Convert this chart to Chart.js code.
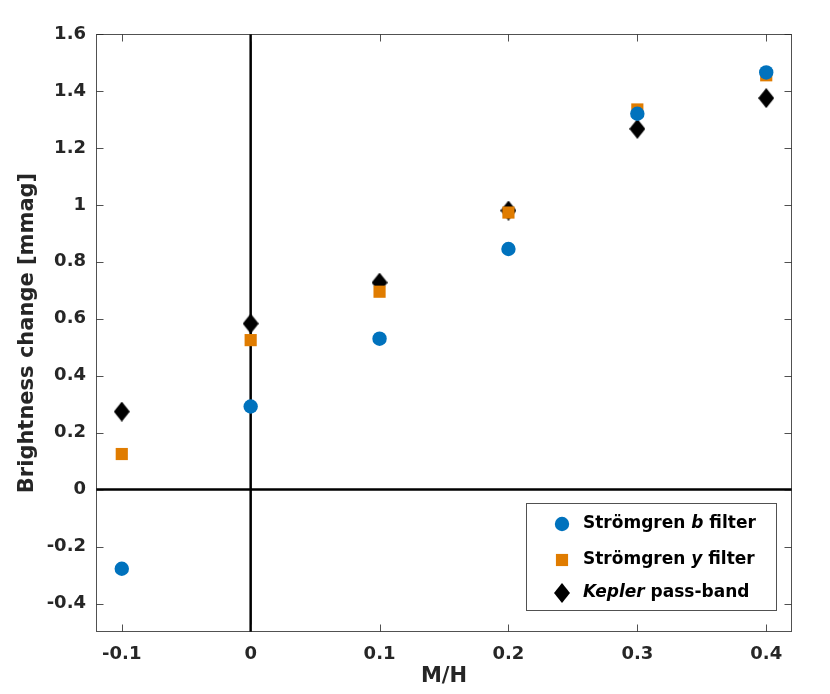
<!DOCTYPE html>
<html><head><meta charset="utf-8">
<script src="https://cdn.jsdelivr.net/npm/chart.js@4"></script>
<style>html,body{margin:0;padding:0;background:#fff}#wrap{width:830px;height:694px;position:relative}</style>
</head><body><div id="wrap"><canvas id="c"></canvas></div>
<script>
const metallicity = [-0.1, 0, 0.1, 0.2, 0.3, 0.4];
const stromgrenB = [-0.278, 0.292, 0.530, 0.845, 1.320, 1.465];
const stromgrenY = [0.125, 0.525, 0.695, 0.973, 1.335, 1.455];
const keplerBand = [0.274, 0.583, 0.727, 0.980, 1.267, 1.375];
const xTickValues = [-0.1, 0, 0.1, 0.2, 0.3, 0.4];
const xTickLabels = ['-0.1', '0', '0.1', '0.2', '0.3', '0.4'];
const yTickValues = [-0.4, -0.2, 0, 0.2, 0.4, 0.6, 0.8, 1, 1.2, 1.4, 1.6];
const yTickLabels = ['-0.4', '-0.2', '0', '0.2', '0.4', '0.6', '0.8', '1', '1.2', '1.4', '1.6'];
const xTitle = 'M/H';
const yTitle = 'Brightness change [mmag]';
const legendParts = [
  [['Strömgren ', false], ['b', true], [' filter', false]],
  [['Strömgren ', false], ['y', true], [' filter', false]],
  [['Kepler', true], [' pass-band', false]]
];

const BLUE = '#0072BD', ORANGE = '#E07C00', BLACK = '#000000';
const FONT = 'DejaVu Sans';
const TEXT = '#262626';

function diamondImage(w, h) {
  const c = document.createElement('canvas');
  c.width = w; c.height = h;
  const g = c.getContext('2d');
  g.fillStyle = BLACK;
  g.beginPath();
  g.moveTo(w / 2, 0); g.lineTo(w, h / 2); g.lineTo(w / 2, h); g.lineTo(0, h / 2);
  g.closePath(); g.fill();
  return c;
}
const diamond = diamondImage(16, 20);

const pts = (ys) => metallicity.map((x, i) => ({ x: x, y: ys[i] }));

const decor = {
  id: 'decor',
  beforeDatasetsDraw(chart) {
    const { ctx, chartArea: a, scales } = chart;
    const x0 = scales.x.getPixelForValue(0);
    const y0 = scales.y.getPixelForValue(0);
    ctx.save();
    ctx.strokeStyle = '#000';
    ctx.lineWidth = 2.5;
    ctx.beginPath();
    ctx.moveTo(x0, a.top); ctx.lineTo(x0, a.bottom);
    ctx.moveTo(a.left, y0); ctx.lineTo(a.right, y0);
    ctx.stroke();
    ctx.restore();
  },
  afterDatasetsDraw(chart) {
    const { ctx, chartArea: a, scales } = chart;
    ctx.save();
    ctx.strokeStyle = 'rgba(38,38,38,0.8)';
    ctx.lineWidth = 1;
    const L = Math.round(a.left) + 0.5, R = Math.round(a.right) - 0.5;
    const T = Math.round(a.top) + 0.5, B = Math.round(a.bottom) - 0.5;
    ctx.strokeRect(L, T, R - L, B - T);
    const tl = 7;
    ctx.beginPath();
    xTickValues.forEach(v => {
      const px = Math.round(scales.x.getPixelForValue(v)) + 0.5;
      ctx.moveTo(px, B); ctx.lineTo(px, B - tl);
      ctx.moveTo(px, T); ctx.lineTo(px, T + tl);
    });
    yTickValues.forEach(v => {
      const py = Math.round(scales.y.getPixelForValue(v)) + 0.5;
      ctx.moveTo(L, py); ctx.lineTo(L + tl, py);
      ctx.moveTo(R, py); ctx.lineTo(R - tl, py);
    });
    ctx.stroke();

    // legend
    const bx = 526.5, by = 503.5, bw = 250, bh = 107;
    ctx.fillStyle = '#fff';
    ctx.fillRect(bx, by, bw, bh);
    ctx.strokeStyle = 'rgba(38,38,38,0.8)';
    ctx.strokeRect(bx, by, bw, bh);
    const rows = [524, 560, 593];
    const mx = 562, tx = 583;
    const ds = chart.data.datasets;
    ds.forEach((d, i) => {
      const ms = {
        pointStyle: d.pointStyle, radius: d.pointRadius, rotation: 0, borderWidth: 0
      };
      ctx.fillStyle = d.backgroundColor;
      ctx.strokeStyle = d.backgroundColor;
      Chart.helpers.drawPoint(ctx, ms, mx, rows[i]);
      let x = tx;
      ctx.fillStyle = '#000';
      ctx.textBaseline = 'middle';
      ctx.textAlign = 'left';
      legendParts[i].forEach(([s, it]) => {
        ctx.font = (it ? 'italic ' : '') + 'bold 17px "' + FONT + '"';
        ctx.fillText(s, x, rows[i]);
        x += ctx.measureText(s).width;
      });
    });
    ctx.restore();
  }
};

new Chart(document.getElementById('c'), {
  type: 'scatter',
  data: {
    datasets: [
      { label: 'Strömgren b filter', data: pts(stromgrenB), pointStyle: 'circle', pointRadius: 7.2, pointHoverRadius: 7.2, backgroundColor: BLUE, borderWidth: 0, pointBorderWidth: 0 },
      { label: 'Strömgren y filter', data: pts(stromgrenY), pointStyle: 'rect', pointRadius: 8.6, pointHoverRadius: 8.6, backgroundColor: ORANGE, borderWidth: 0, pointBorderWidth: 0 },
      { label: 'Kepler pass-band', data: pts(keplerBand), pointStyle: diamond, pointRadius: 9, backgroundColor: BLACK, borderWidth: 0, pointBorderWidth: 0 }
    ]
  },
  options: {
    responsive: true,
    maintainAspectRatio: false,
    animation: false,
    events: [],
    layout: { padding: { left: 0, top: 34, right: 38, bottom: 0 }, autoPadding: false },
    plugins: { legend: { display: false }, tooltip: { enabled: false } },
    scales: {
      x: {
        type: 'linear', min: -0.12, max: 0.42,
        afterBuildTicks: s => { s.ticks = xTickValues.map(v => ({ value: v })); },
        afterFit: s => { s.height = 62; },
        grid: { display: false, drawTicks: false },
        border: { display: false },
        ticks: {
          padding: 12, color: TEXT, font: { family: FONT, size: 18, weight: 'bold' },
          maxRotation: 0, autoSkip: false,
          callback: (v, i) => xTickLabels[i]
        },
        title: { display: true, text: xTitle, color: TEXT, font: { family: FONT, size: 21, weight: 'bold' }, padding: { top: 0, bottom: 5 } }
      },
      y: {
        type: 'linear', min: -0.5, max: 1.6,
        afterBuildTicks: s => { s.ticks = yTickValues.map(v => ({ value: v })); },
        afterFit: s => { s.width = 96; },
        grid: { display: false, drawTicks: false },
        border: { display: false },
        ticks: {
          padding: 10, color: TEXT, font: { family: FONT, size: 18, weight: 'bold' },
          autoSkip: false,
          callback: (v, i) => yTickLabels[i]
        },
        title: { display: true, text: yTitle, color: TEXT, font: { family: FONT, size: 21, weight: 'bold' }, padding: { top: 15, bottom: 0 } }
      }
    }
  },
  plugins: [decor]
});
</script>
</body></html>
